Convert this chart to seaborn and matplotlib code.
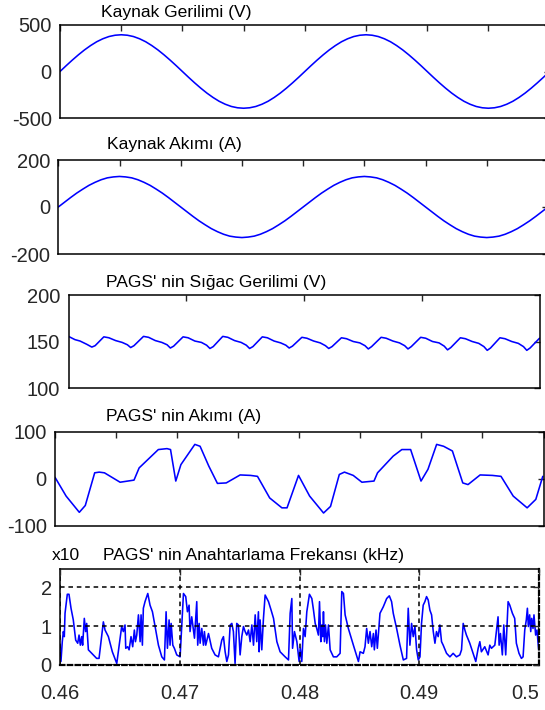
import numpy as np
import matplotlib
matplotlib.use("Agg")
import matplotlib.pyplot as plt
import seaborn as sns

# ---------------- data ----------------
# Source voltage (V), sampled every 0.5 ms from 0.46 s to 0.50 s
voltage = [0, 62, 122, 179, 232, 279, 320, 352, 376, 390, 395, 390, 376, 352, 320, 279, 232, 179, 122, 62,
           0, -62, -122, -179, -232, -279, -320, -352, -376, -390, -395, -390, -376, -352, -320, -279, -232, -179, -122, -62,
           0, 62, 122, 179, 232, 279, 320, 352, 376, 390, 395, 390, 376, 352, 320, 279, 232, 179, 122, 62,
           0, -62, -122, -179, -232, -279, -320, -352, -376, -390, -395, -390, -376, -352, -320, -279, -232, -179, -122, -62, 0]
# Source current (A), same sampling
current = [0, 20, 40, 59, 76, 92, 105, 116, 124, 128, 130, 128, 124, 116, 105, 92, 76, 59, 40, 20,
           0, -20, -40, -59, -76, -92, -105, -116, -124, -128, -130, -128, -124, -116, -105, -92, -76, -59, -40, -20,
           0, 20, 40, 59, 76, 92, 105, 116, 124, 128, 130, 128, 124, 116, 105, 92, 76, 59, 40, 20,
           0, -20, -40, -59, -76, -92, -105, -116, -124, -128, -130, -128, -124, -116, -105, -92, -76, -59, -40, -20, 0]

# Capacitor voltage (V)
cap_t = [0.46000, 0.46055, 0.46098, 0.46155, 0.46198, 0.46226,
         0.46300, 0.46343, 0.46400, 0.46456, 0.46500, 0.46528, 0.46556,
         0.46637, 0.46680, 0.46737, 0.46793, 0.46837, 0.46865, 0.46893,
         0.46973, 0.47016, 0.47073, 0.47129, 0.47173, 0.47201, 0.47229,
         0.47310, 0.47353, 0.47410, 0.47466, 0.47510, 0.47538, 0.47566,
         0.47646, 0.47689, 0.47746, 0.47802, 0.47846, 0.47874, 0.47902,
         0.47982, 0.48025, 0.48082, 0.48138, 0.48182, 0.48210, 0.48238,
         0.48318, 0.48361, 0.48418, 0.48474, 0.48518, 0.48546, 0.48574,
         0.48655, 0.48698, 0.48755, 0.48811, 0.48855, 0.48883, 0.48911,
         0.48991, 0.49034, 0.49091, 0.49147, 0.49191, 0.49219, 0.49247,
         0.49328, 0.49371, 0.49428, 0.49484, 0.49528, 0.49556, 0.49584,
         0.49664, 0.49707, 0.49764, 0.49820, 0.49864, 0.49892, 0.49920,
         0.50000]
cap_v = [155.5, 152, 150.5, 147, 144, 145.5,
         155, 154, 151, 149, 146.5, 143.5, 145.5,
         155.5, 154.5, 151, 149, 146.5, 143, 145,
         155, 154, 150.5, 149, 146, 142.5, 144.5,
         155.5, 154.5, 151, 149, 146, 142.5, 144.5,
         155, 154, 150.5, 148.5, 146, 143, 145,
         154.5, 153.5, 150.5, 148.5, 145.5, 142.5, 144.5,
         154, 153, 150, 148.5, 145.5, 142, 144.5,
         154.5, 153.5, 150.5, 148.5, 145.5, 142, 144.5,
         154.5, 153.5, 150, 148.5, 145, 141, 143.5,
         154, 153, 150, 148, 144.5, 140.5, 143,
         154, 153, 150, 148, 144.5, 140.5, 143,
         153.5]

# Compensator current (A)
comp_t = [0.46000, 0.46091, 0.46199, 0.46248, 0.46325, 0.46362, 0.46405, 0.46533, 0.46647, 0.46689,
          0.46846, 0.46917, 0.46946, 0.46989, 0.47031, 0.47145, 0.47188, 0.47259, 0.47330, 0.47402,
          0.47516, 0.47601, 0.47658, 0.47758, 0.47858, 0.47900, 0.47994, 0.48085, 0.48199, 0.48256,
          0.48328, 0.48370, 0.48442, 0.48513, 0.48612, 0.48641, 0.48769, 0.48840, 0.48912, 0.48997,
          0.49054, 0.49125, 0.49182, 0.49254, 0.49339, 0.49382, 0.49481, 0.49581, 0.49652, 0.49752,
          0.49866, 0.49937, 0.49994]
comp_i = [3, -37, -71.5, -57, 12.5, 14, 12.5, -7.5, -3, 23,
          62, 64, 62, -5, 30, 73, 69, 27, -10, -9,
          8, 7, 5, -41, -62, -62, 7, -37, -73, -59,
          9, 14, 7, -7.5, -5, 12.5, 48, 62, 62, -5,
          20, 73, 69, 59, -9, -12.5, 8, 7, 5, -37,
          -62, -44, 5]

# Switching frequency (x10 kHz); time in ms after 0.46 s
sw_ms = [0.00, 0.08, 0.19, 0.28, 0.36, 0.42, 0.61, 0.75, 0.92, 1.11, 1.31, 1.48, 1.59, 1.70, 1.81, 1.89,
         2.03, 2.14, 2.23, 2.37, 2.65, 3.06, 3.26, 3.62, 3.76, 4.04, 4.37, 4.74, 5.15, 5.29, 5.43, 5.49,
         5.65, 5.77, 5.93, 6.07, 6.21, 6.30, 6.41, 6.55, 6.69, 6.77, 6.88, 6.96, 7.10, 7.33, 7.52, 7.72,
         7.94, 8.22, 8.50, 8.72, 8.86, 8.97, 9.11, 9.19, 9.28, 9.42, 9.55, 9.75, 10.03, 10.31, 10.50, 10.64,
         10.78, 10.86, 11.00, 11.23, 11.28, 11.42, 11.50, 11.62, 11.70, 11.84, 11.98, 12.06, 12.17, 12.40,
         12.67, 12.95, 13.23, 13.51, 13.65, 13.79, 13.93, 14.07, 14.21, 14.35, 14.48, 14.62, 14.76, 14.90,
         15.04, 15.18, 15.32, 15.46, 15.60, 15.74, 15.88, 16.02, 16.16, 16.30, 16.43, 16.57, 16.63, 16.71,
         16.85, 16.99, 17.13, 17.41, 17.63, 17.83, 18.11, 18.38, 18.80, 19.08, 19.22, 19.36, 19.42, 19.58,
         19.78, 19.97,
         20.06, 20.19, 20.33, 20.47, 20.61, 20.83, 21.03, 21.17, 21.31, 21.44, 21.58, 21.67, 21.78, 21.86,
         21.94, 22.00, 22.08, 22.17, 22.28, 22.42, 22.56, 22.83, 23.11, 23.39, 23.53, 23.67, 23.81, 24.08,
         24.50, 24.92, 25.06, 25.33, 25.47, 25.61, 25.75, 25.89, 26.03, 26.17, 26.25, 26.39, 26.50, 26.72,
         27.00, 27.28, 27.50, 27.69, 27.83, 28.11, 28.39, 28.67, 28.94, 29.08, 29.22, 29.36, 29.50, 29.64,
         29.78, 29.92, 30.06, 30.19, 30.33, 30.47, 30.61, 30.75, 30.89, 31.03, 31.17, 31.31, 31.44, 31.58,
         31.72, 31.86, 32.00, 32.28, 32.56, 32.83, 33.11, 33.39, 33.53, 33.67, 33.81, 33.94, 34.22, 34.50,
         34.72, 34.92, 35.06, 35.19, 35.47, 35.75, 35.89, 36.03, 36.31, 36.58, 36.67, 36.78, 36.94, 37.06,
         37.22, 37.42, 37.56, 37.78, 37.97, 38.11, 38.33, 38.53, 38.67, 38.81, 38.94, 39.03, 39.11, 39.22,
         39.31, 39.39, 39.50, 39.58, 39.72, 39.83, 39.97]
sw_f = [0.51, 0.09, 0.60, 0.86, 0.73, 1.33, 1.82, 1.82, 1.46, 1.16, 0.64, 0.56, 0.77, 0.51, 0.73, 0.51,
        1.20, 0.86, 1.07, 0.39, 0.30, 0.17, 0.17, 1.11, 0.90, 0.73, 0.34, 0.04, 0.99, 0.86, 1.03, 0.43,
        0.47, 0.39, 0.73, 0.47, 0.90, 0.60, 0.77, 1.29, 0.60, 1.29, 0.51, 1.46, 1.63, 1.84, 1.54, 1.37,
        0.99, 0.51, 0.21, 0.13, 1.37, 0.43, 1.16, 0.51, 1.07, 0.51, 0.43, 0.26, 0.21, 1.84, 1.76, 1.37,
        1.54, 0.86, 1.24, 0.69, 0.94, 1.63, 0.51, 1.07, 0.56, 0.94, 0.51, 0.86, 0.51, 0.81,
        0.43, 0.26, 0.21, 0.64, 0.73, 0.34, 0.09, 0.26, 1.03, 1.07, 0.86, 0.04, 1.07, 1.03,
        0.26, 0.73, 0.99, 0.86, 0.77, 0.90, 0.60, 1.03, 0.51, 1.29, 0.60, 1.37, 0.34, 1.16,
        0.39, 1.20, 1.80, 1.63, 1.41, 1.20, 0.60, 0.34, 0.21, 0.13, 1.33, 1.71, 0.43, 0.86,
        0.60, 0.09,
        0.43, 0.09, 0.94, 0.73, 1.37, 1.82, 1.71, 1.41, 1.07, 0.94, 0.77, 1.63, 0.60, 1.03,
        0.73, 1.37, 0.60, 1.03, 0.56, 1.03, 0.39, 0.21, 0.21, 0.30, 1.89, 1.84, 1.29, 0.94,
        0.51, 0.09, 0.34, 0.30, 0.47, 0.94, 0.56, 0.86, 0.47, 0.81, 0.39, 0.90, 0.43, 1.33,
        1.50, 1.71, 1.78, 1.63, 1.33, 0.94, 0.51, 0.13, 0.17, 1.46, 0.51, 1.07, 0.73, 0.99,
        0.39, 0.13, 0.21, 1.07, 1.54, 1.63, 1.76, 1.67, 1.41, 1.29, 0.86, 0.56, 0.86, 0.73,
        1.03, 0.60, 0.51, 0.30, 0.21, 0.30, 0.21, 0.26, 0.39, 1.07, 0.90, 0.77, 0.56, 0.30,
        0.09, 0.43, 0.60, 0.34, 0.47, 0.26, 0.51, 0.43, 0.51, 1.24, 0.51, 0.81, 0.26, 1.03,
        0.26, 1.63, 1.54, 1.33, 1.20, 0.56, 0.30, 0.17, 0.21, 0.90, 1.16, 1.46, 0.99, 1.29,
        0.86, 1.20, 0.94, 1.29, 0.77, 0.90, 0.40]

titles = ["Kaynak Gerilimi (V)", "Kaynak Akımı (A)", "PAGS' nin Sığac Gerilimi (V)",
          "PAGS' nin Akımı (A)", "PAGS' nin Anahtarlama Frekansı (kHz)"]
x_tick_labels = ["0.46", "0.47", "0.48", "0.49", "0.5"]

# ---------------- plotting ----------------
sns.set_style("white")
plt.rcParams['font.family'] = ['Liberation Sans', 'DejaVu Sans']

W, H = 545, 710
fig = plt.figure(figsize=(W / 100, H / 100), dpi=100)

def add_ax(x0, x1, y0, y1):
    return fig.add_axes([x0 / W, 1 - y1 / H, (x1 - x0) / W, (y1 - y0) / H])

t_sine = np.linspace(0.46, 0.50, len(voltage))
line_kw = dict(color="#0000ff", linewidth=1.15, estimator=None, sort=False, legend=False)
tick_kw = dict(direction="in", length=4, width=1, top=True, right=True, labelsize=14.5, pad=6)

axes = [add_ax(60, 549.6, 25, 118), add_ax(58.3, 548, 160, 254), add_ax(68.5, 539.5, 295, 388),
        add_ax(55, 543.5, 431.7, 525.7), add_ax(60, 539, 569, 665)]

sns.lineplot(x=t_sine, y=voltage, ax=axes[0], **line_kw)
sns.lineplot(x=t_sine, y=current, ax=axes[1], **line_kw)
sns.lineplot(x=cap_t, y=cap_v, ax=axes[2], **line_kw)
sns.lineplot(x=comp_t, y=comp_i, ax=axes[3], **line_kw)
sw_t = [0.46 + m / 1000.0 for m in sw_ms]
sns.lineplot(x=sw_t, y=sw_f, ax=axes[4], **line_kw)

ylims = [(-500, 500), (-200, 200), (100, 200), (-100, 100), (0, 2.47)]
yticks = [[-500, 0, 500], [-200, 0, 200], [100, 150, 200], [-100, 0, 100], [0, 1, 2]]
xtick_sets = [np.arange(0.46, 0.5001, 0.005), np.arange(0.46, 0.5001, 0.005),
              [0.47, 0.48, 0.49], np.arange(0.46, 0.5001, 0.005), [0.46, 0.47, 0.48, 0.49, 0.50]]

for i, ax in enumerate(axes):
    ax.set_xlim(0.46, 0.50)
    ax.set_ylim(*ylims[i])
    ax.set_yticks(yticks[i])
    ax.set_yticklabels([str(v) for v in yticks[i]])
    ax.set_xticks(xtick_sets[i])
    ax.tick_params(**tick_kw)
    ax.set_xlabel("")
    ax.set_ylabel("")
    for s in ax.spines.values():
        s.set_color("black")
        s.set_linewidth(1.1)
    if i < 4:
        ax.set_xticklabels([])

# bottom panel: grid + labels
ax5 = axes[4]
ax5.set_xticklabels(x_tick_labels)
ax5.tick_params(axis="x", pad=14)
lbls = ax5.get_xticklabels()
lbls[-1].set_horizontalalignment("right")
ax5.grid(True, color="black", linestyle=(0, (3, 2.5)), linewidth=1.1)
ax5.set_axisbelow(False)
for side in ("bottom", "right"):
    ax5.spines[side].set_linestyle((0, (2, 1.5)))
    ax5.spines[side].set_linewidth(1.6)

# titles (left-aligned text, as in the reference)
title_pos = [(101, 12), (107, 145), (106, 282), (106, 416.5), (103, 555.5)]
for txt, (x, y) in zip(titles, title_pos):
    fig.text(x / W, 1 - y / H, txt, ha="left", va="center", fontsize=12.6, color="black")
fig.text(52 / W, 1 - 555.5 / H, "x10", ha="left", va="center", fontsize=12.6, color="black")

fig.savefig("out.png", dpi=100)
